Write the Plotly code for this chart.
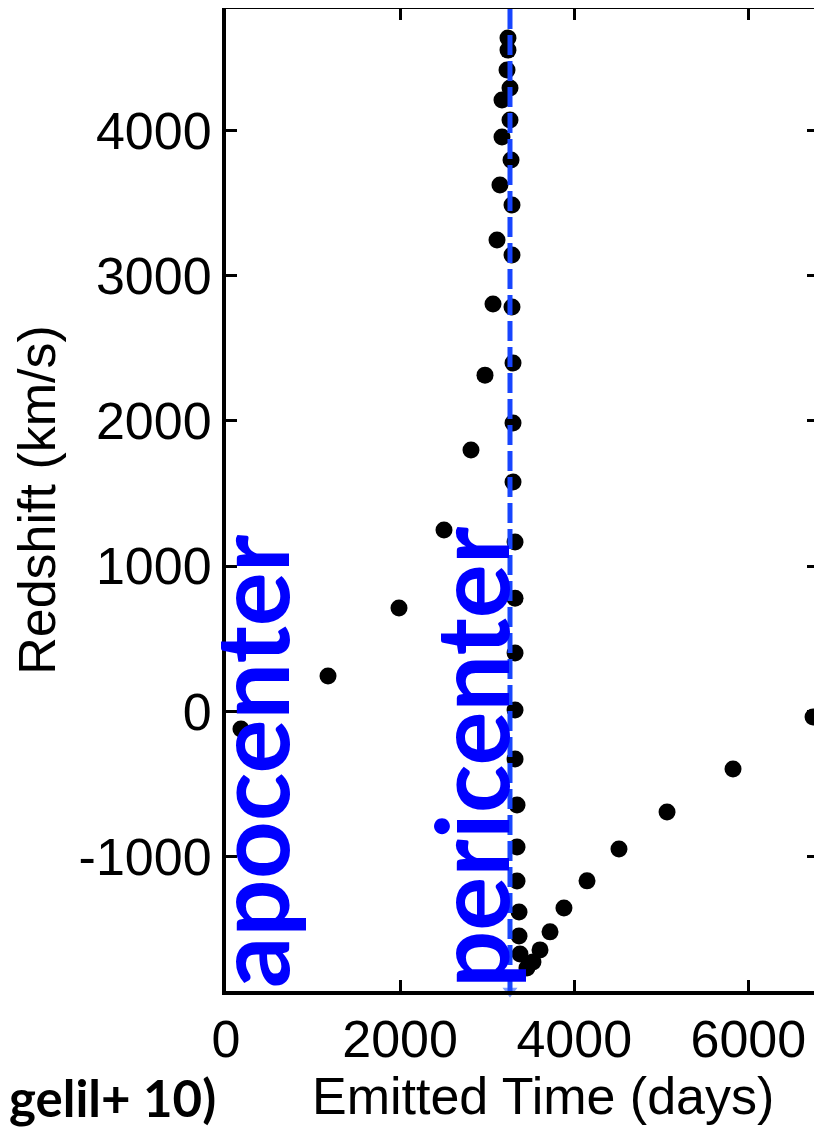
import plotly.graph_objects as go

# Emitted time (days) and redshift (km/s)
emitted_days = [3239, 3239, 3228, 3262, 3170, 3262, 3170, 3274, 3147, 3285,
                3113, 3285, 3067, 3285, 3297, 2975, 3297, 2814, 3297, 2504,
                3320, 1987, 3320, 3320, 1172, 3320, 172, 3320, 3343, 3343,
                3343, 3366, 3366, 3377, 3457, 3526, 3607, 3722, 3882, 4147,
                4514, 5066, 5824, 6743]
redshift_kms = [4635, 4552, 4415, 4291, 4209, 4071, 3954, 3796, 3624, 3486,
                3245, 3142, 2805, 2784, 2398, 2315, 1985, 1799, 1579, 1249,
                1166, 712, 780, 402, 244, 10, -120, -327, -644, -933,
                -1167, -1380, -1545, -1669, -1765, -1724, -1641, -1517, -1352, -1166,
                -946, -692, -396, -38]

pericenter_day = 3262
x_range = [0, 6800]
y_range = [-1924, 4835]
x_ticks = [0, 2000, 4000, 6000]
x_ticktext = ["0", "2000", "4000", "6000"]
y_ticks = [-1000, 0, 1000, 2000, 3000, 4000]
y_ticktext = ["-1000", "0", "1000", "2000", "3000", "4000"]

AX_FONT = dict(family="Liberation Sans, Arial, sans-serif", size=52, color="black")

fig = go.Figure()
fig.add_trace(go.Scatter(
    x=emitted_days, y=redshift_kms, mode="markers",
    marker=dict(color="black", size=17, symbol="circle"),
    showlegend=False, hoverinfo="skip"))

# arrow head at the bottom of the pericenter line
fig.add_trace(go.Scatter(
    x=[pericenter_day], y=[y_range[0]], mode="markers",
    marker=dict(color="#7f9cff", size=13, symbol="triangle-down"),
    cliponaxis=False, showlegend=False, hoverinfo="skip"))

fig.add_shape(type="line", xref="x", yref="paper",
              x0=pericenter_day, x1=pericenter_day, y0=0, y1=1,
              line=dict(color="#1745ff", width=5, dash="20px,6px"), layer="above")

# the page body adds an 8px margin, so the figure is 8px smaller on each axis
fig.update_layout(
    width=814, height=1119,
    margin=dict(l=218, r=4, t=1, b=136),
    plot_bgcolor="white", paper_bgcolor="white",
    xaxis=dict(range=x_range, tickvals=x_ticks, ticktext=x_ticktext,
               ticks="inside", ticklen=11, tickwidth=3, tickcolor="black",
               showline=True, linewidth=4, linecolor="black", mirror="ticks",
               showgrid=False, zeroline=False, tickfont=AX_FONT, automargin=False),
    yaxis=dict(range=y_range, tickvals=y_ticks, ticktext=y_ticktext,
               ticks="inside", ticklen=11, tickwidth=3, tickcolor="black",
               showline=True, linewidth=4, linecolor="black", mirror="ticks",
               showgrid=False, zeroline=False, tickfont=AX_FONT, automargin=False,
               title=dict(text="Redshift (km/s)", font=AX_FONT, standoff=8)),
)

# x-axis title (offset to the right of the axis centre, as in the reference)
fig.add_annotation(text="Emitted Time (days)", xref="paper", yref="paper",
                   x=(543 - 226) / 592, y=(991 - 1096) / 982,
                   showarrow=False, xanchor="center", yanchor="middle", font=AX_FONT)

TXT_FONT = dict(family="Lato, sans-serif", size=101, color="#0000ff", weight="bold")
fig.add_annotation(text="apocenter", xref="paper", yref="paper",
                   x=(250 - 226) / 592, y=(991 - 761) / 982,
                   textangle=-90, showarrow=False, font=TXT_FONT,
                   xanchor="center", yanchor="middle")
fig.add_annotation(text="pericenter", xref="paper", yref="paper",
                   x=(470 - 226) / 592, y=(991 - 757) / 982,
                   textangle=-90, showarrow=False, font=TXT_FONT,
                   xanchor="center", yanchor="middle")
fig.add_annotation(text="gelil+ 10)", xref="paper", yref="paper",
                   x=(218 - 226) / 592, y=(991 - 1097) / 982,
                   showarrow=False, xanchor="right", yanchor="middle",
                   font=dict(family="Lato, sans-serif", size=51, color="black", weight="bold"))

fig.write_html("out.html")
